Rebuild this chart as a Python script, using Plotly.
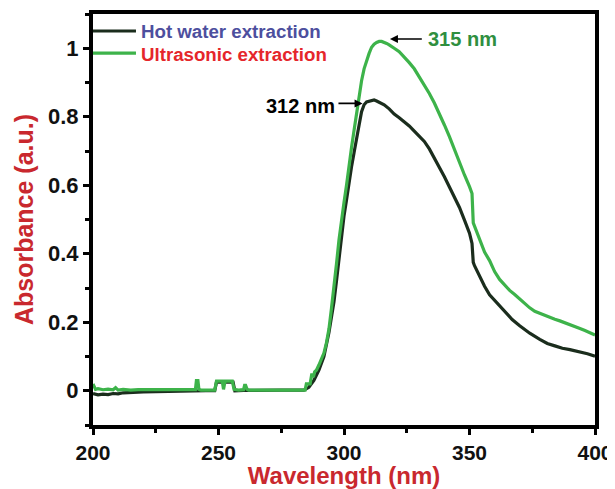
import plotly.graph_objects as go

# ---- Data ----
wl_ultra = [200, 201, 202, 204, 206, 208, 209, 210, 212, 215, 218, 220, 225, 230, 235, 240,
            240.8, 241.2, 241.8, 242.2, 243, 245, 248.5, 249.2, 249.8, 251.5, 252, 252.6, 253.2,
            255.5, 256.2, 258, 260, 260.4, 260.8, 261.4, 262, 265, 270, 275, 280, 284.5, 285,
            286.5, 287.2, 287.8, 288.3, 289, 290, 291, 292, 293, 294, 295, 296, 297, 298, 299,
            300, 301, 302, 303, 304, 305, 306, 307, 308, 309, 310, 311, 312, 313, 314, 315, 316,
            317, 318, 319, 320, 322, 324, 326, 328, 330, 332, 334, 336, 338, 340, 342, 344, 346,
            348, 350, 351, 351.5, 352, 353, 354, 355, 356, 358, 360, 362, 364, 366, 368, 370,
            372, 374, 376, 378, 380, 382, 384, 386, 388, 390, 392, 394, 396, 398, 400]
abs_ultra = [0.020, 0.004, 0.006, 0.003, 0.005, 0.003, 0.009, 0.002, 0.004, 0.002, 0.003, 0.003,
             0.002, 0.002, 0.003, 0.002,
             0.003, 0.030, 0.030, 0.004, 0.002, 0.002, 0.002, 0.028, 0.028, 0.028, 0.004, 0.028,
             0.028,
             0.028, 0.004, 0.002, 0.003, 0.016, 0.016, 0.004, 0.002, 0.002, 0.002, 0.002, 0.002,
             0.002, 0.020,
             0.020, 0.050, 0.040, 0.055, 0.060, 0.075, 0.095, 0.110, 0.140, 0.180, 0.240, 0.300,
             0.370, 0.440, 0.500,
             0.550, 0.600, 0.660, 0.710, 0.760, 0.810, 0.860, 0.905, 0.940, 0.965, 0.985, 1.003,
             1.012, 1.017, 1.020, 1.020, 1.018,
             1.014, 1.010, 1.006, 1.000, 0.990, 0.975, 0.958, 0.940, 0.917, 0.893, 0.868, 0.840,
             0.810, 0.776, 0.742, 0.703, 0.664,
             0.630, 0.596, 0.576, 0.490, 0.480, 0.462, 0.445, 0.425, 0.405, 0.380, 0.348, 0.325,
             0.308, 0.293, 0.281, 0.268,
             0.254, 0.242, 0.232, 0.226, 0.219, 0.214, 0.209, 0.204, 0.199, 0.194, 0.188, 0.182,
             0.176, 0.170, 0.163]

wl_hot = [200, 202, 204, 206, 208, 210, 212, 215, 218, 220, 225, 230, 235, 240, 245, 248.5,
          249.2, 255.8, 256.5, 260, 265, 270, 275, 280, 284, 286, 288, 290, 292, 294, 295, 296,
          297, 298, 299, 300, 301, 302, 303, 304, 305, 306, 307, 308, 309, 310, 311, 312, 313,
          314, 315, 316, 318, 320, 322, 324, 326, 328, 330, 332, 334, 336, 338, 340, 342, 344,
          346, 348, 350, 351, 351.5, 352, 354, 356, 358, 361, 364, 367, 370, 374, 378, 381, 384,
          387, 390, 394, 397, 400]
abs_hot = [-0.008, -0.012, -0.010, -0.011, -0.008, -0.009, -0.006, -0.006, -0.004, -0.003,
           -0.002, -0.002, -0.001, -0.001, 0.000, 0.000,
           0.025, 0.025, 0.000, 0.001, 0.002, 0.002, 0.002, 0.002, 0.002, 0.010, 0.030, 0.060,
           0.100, 0.170, 0.210, 0.260,
           0.320, 0.390, 0.460, 0.510, 0.557, 0.610, 0.654, 0.695, 0.730, 0.775, 0.815, 0.835,
           0.843, 0.845, 0.847, 0.849, 0.846,
           0.843, 0.840, 0.835, 0.823, 0.808, 0.797, 0.786, 0.773, 0.758, 0.742, 0.728, 0.706,
           0.680, 0.652, 0.625, 0.595, 0.567,
           0.535, 0.498, 0.460, 0.430, 0.375, 0.365, 0.333, 0.305, 0.280, 0.255, 0.230, 0.208,
           0.190, 0.168, 0.150, 0.138, 0.131,
           0.124, 0.120, 0.114, 0.108, 0.101]

x_tickvals = [200, 250, 300, 350, 400]
y_tickvals = [0, 0.2, 0.4, 0.6, 0.8, 1]
y_ticklabels = ["0", "0.2", "0.4", "0.6", "0.8", "1"]

peak_hot = (312, 0.849)
peak_ultra = (315, 1.020)

FONT = "Liberation Sans, Arial, sans-serif"
DARK = "#1b2d1d"
GREEN = "#3db34a"

fig = go.Figure()
fig.add_trace(go.Scatter(
    x=wl_hot, y=abs_hot, mode="lines",
    line=dict(color=DARK, width=3.2), legend="legend",
    name="<span style='color:#4d4f9e'>Hot water extraction</span>"))
fig.add_trace(go.Scatter(
    x=wl_ultra, y=abs_ultra, mode="lines",
    line=dict(color=GREEN, width=3.2), legend="legend2",
    name="<span style='color:#e5262b'>Ultrasonic extraction</span>"))

# peak labels with arrows
fig.add_annotation(x=peak_hot[0] - 4.6, y=peak_hot[1] - 0.01, ax=peak_hot[0] - 14.8,
                   ay=peak_hot[1] - 0.01, xref="x", yref="y", axref="x", ayref="y",
                   text="", showarrow=True, arrowhead=2, arrowsize=1, arrowwidth=1.6,
                   arrowcolor="black")
fig.add_annotation(x=peak_hot[0] - 29.2, y=peak_hot[1] - 0.018, xref="x", yref="y",
                   text="312 nm", showarrow=False,
                   font=dict(family=FONT, size=20, color="black", weight="bold"))
fig.add_annotation(x=peak_ultra[0] + 3.3, y=peak_ultra[1] + 0.007, ax=peak_ultra[0] + 16.6,
                   ay=peak_ultra[1] + 0.007, xref="x", yref="y", axref="x", ayref="y",
                   text="", showarrow=True, arrowhead=2, arrowsize=1, arrowwidth=1.6,
                   arrowcolor="black")
fig.add_annotation(x=peak_ultra[0] + 32.4, y=peak_ultra[1] + 0.007, xref="x", yref="y",
                   text="315 nm", showarrow=False,
                   font=dict(family=FONT, size=20, color="#2f8f3f", weight="bold"))

axis_common = dict(showline=True, linewidth=4, linecolor="black", mirror=True,
                   ticks="outside", ticklen=6, tickwidth=3, tickcolor="black",
                   showgrid=False, zeroline=False, automargin=False)

fig.update_xaxes(range=[200, 400], tickvals=x_tickvals,
                 tickfont=dict(family=FONT, size=21, color="#111111", weight="bold"),
                 minor=dict(ticks="outside", ticklen=4, tickwidth=3, tickcolor="black",
                            dtick=25, tick0=200, showgrid=False),
                 title=dict(text="Wavelength (nm)", standoff=5,
                            font=dict(family=FONT, size=24, color="#c9282e", weight="bold")),
                 **axis_common)
fig.update_yaxes(range=[-0.1, 1.1], tickvals=y_tickvals, ticktext=y_ticklabels,
                 tickfont=dict(family=FONT, size=22, color="#111111", weight="bold"),
                 minor=dict(ticks="outside", ticklen=4, tickwidth=3, tickcolor="black",
                            dtick=0.1, tick0=-0.1, showgrid=False),
                 title=dict(text="Absorbance (a.u.)", standoff=8,
                            font=dict(family=FONT, size=25, color="#c9282e", weight="bold")),
                 **axis_common)

legend_common = dict(xanchor="left", yanchor="top", bgcolor="rgba(0,0,0,0)", borderwidth=0,
                     font=dict(family=FONT, size=18.7, weight="bold"), itemwidth=43)

# the page body adds an 8px margin, so the figure is made 8px smaller on each
# offset side and its margins shifted to land the plot area where the reference has it
fig.update_layout(
    width=607, height=481,
    margin=dict(l=85, r=20, t=6, b=64, autoexpand=False),
    plot_bgcolor="white", paper_bgcolor="white",
    showlegend=True,
    legend=dict(x=-0.01, y=1.004, **legend_common),
    legend2=dict(x=-0.01, y=0.950, **legend_common),
)

fig.write_html("out.html")
